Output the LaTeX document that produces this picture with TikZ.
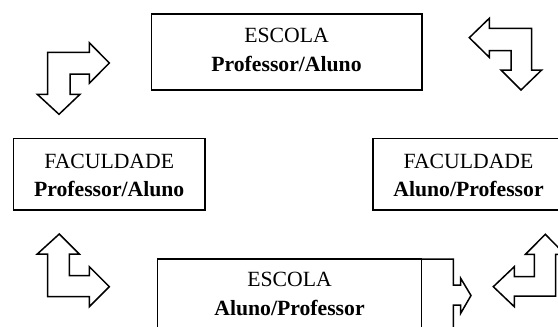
\documentclass[tikz,border=0pt]{standalone}
\usepackage{fontspec}
\setmainfont{Liberation Serif}
\begin{document}
\begin{tikzpicture}[x=1pt,y=-1pt,
  boxframe/.style={draw=black,line width=1.5pt,fill=white,inner sep=0pt,rectangle},
  lbl/.style={inner sep=0pt,anchor=base,font=\fontsize{21.7}{28}\selectfont},
  blbl/.style={lbl,font=\fontsize{21.7}{28}\selectfont\bfseries},
  arrowshape/.style={draw=black,line width=1.5pt,line join=miter,fill=white}]
\useasboundingbox (0,0) rectangle (558,327);
\clip (0,0) rectangle (558,327);
% top box
\node[boxframe,minimum width=270.5pt,minimum height=76pt] (topbox) at (286.5,52) {};
\node[lbl]  (toptitle) at (286.5,42.7) {ESCOLA};
\node[blbl] (toprole)  at (286.5,71.7) {Professor/Aluno};
% left box
\node[boxframe,minimum width=191.7pt,minimum height=71.7pt] (leftbox) at (109.2,174.2) {};
\node[lbl]  (lefttitle) at (109.2,168.3) {FACULDADE};
\node[blbl] (leftrole)  at (109.2,196) {Professor/Aluno};
% right box (runs past the right edge)
\node[boxframe,minimum width=191pt,minimum height=71.7pt] (rightbox) at (468.5,174.2) {};
\node[lbl]  (righttitle) at (468.5,168.3) {FACULDADE};
\node[blbl] (rightrole)  at (468.5,196) {Aluno/Professor};
% bottom partial arrow behind the bottom box
\draw[line width=1.5pt,line join=miter] (422,259) -- (453.3,259) -- (453.3,285) -- (460.7,285)
  -- (460.7,278.3) -- (471,295.5) -- (460.7,313.3) -- (460.7,305) -- (453.3,305) -- (453.3,340);
% bottom box (runs past the bottom edge)
\node[boxframe,minimum width=264.4pt,minimum height=90pt] (bottombox) at (289.5,304) {};
\node[lbl]  (bottomtitle) at (289.5,286.7) {ESCOLA};
\node[blbl] (bottomrole)  at (289.5,315) {Aluno/Professor};
% corner arrows
\draw[arrowshape] (47.7,52.3) -- (89.3,52.3) -- (89.3,42.7) -- (109.3,63) -- (89.3,83.3) -- (89.3,74)
  -- (70,74) -- (70,94.3) -- (80,94.3) -- (59,114.3) -- (37.3,94.3) -- (47.7,94.3) -- cycle;
\draw[arrowshape] (469.3,37.7) -- (489.3,18.3) -- (489.3,28.3) -- (531.7,28.3) -- (531.7,70) -- (541.7,70)
  -- (521,90) -- (501,70) -- (511,70) -- (511,50.7) -- (489.3,50.7) -- (489.3,57.3) -- cycle;
\draw[arrowshape] (59.3,234) -- (79.3,254) -- (69.3,254) -- (69.3,275.7) -- (89.3,275.7) -- (89.3,266.7)
  -- (109.3,286.7) -- (89.3,306.7) -- (89.3,296.7) -- (47.7,296.7) -- (47.7,254) -- (37.3,254) -- cycle;
\draw[arrowshape] (493.3,286.7) -- (514.3,266.7) -- (514.3,276.7) -- (534.3,276.7) -- (534.3,254.3)
  -- (525.5,254.3) -- (545.3,234.3) -- (565,254.3) -- (555.7,254.3) -- (555.7,296) -- (514.3,296)
  -- (514.3,306.7) -- cycle;
\end{tikzpicture}
\end{document}
